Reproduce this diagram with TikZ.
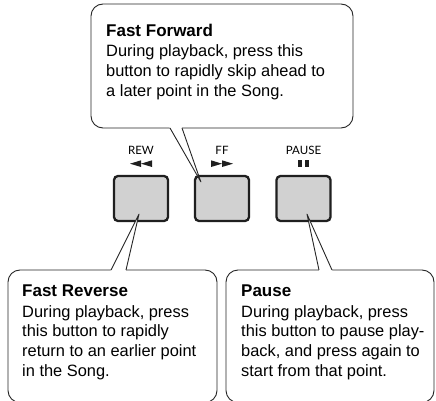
\documentclass[tikz,border=0pt]{standalone}
\usepackage{fontspec}
\setmainfont{Liberation Sans}
\newfontfamily\lblfont{Lato}
\usetikzlibrary{calc}
\begin{document}
\begin{tikzpicture}[x=1pt,y=-1pt,
  callout/.style={draw=black!85, line width=0.9pt, fill=white, rounded corners=12pt},
  pointer/.style={draw=black!85, line width=0.9pt, line join=round},
  btn/.style={draw=black!88, line width=2.3pt, fill=black!18, rounded corners=4pt,
    minimum width=54pt, minimum height=45pt, inner sep=0pt},
  lbl/.style={font=\lblfont\fontsize{11.5}{13}\selectfont, inner sep=0pt, anchor=base},
  ttl/.style={font=\bfseries\fontsize{17}{20}\selectfont, inner sep=0pt, anchor=base west},
  body/.style={font=\fontsize{16.4}{19.8}\selectfont, inner sep=0pt, anchor=base west},
  symb/.style={fill=black!88}
]
\useasboundingbox (0,0) rectangle (436,401);

% buttons
\node[btn] (rew) at (141,198.5) {};
\node[btn] (ff) at (222,198.5) {};
\node[btn] (pause) at (303.5,198.5) {};

% button labels
\node[lbl] (rewlbl) at (141,154.5) {REW};
\node[lbl] (fflbl) at (222,154.5) {FF};
\node[lbl] (pauselbl) at (303.5,154.5) {PAUSE};

% symbols
\fill[symb] (130,163.7) -- (141,160.3) -- (141,167) -- cycle;
\fill[symb] (141,163.7) -- (152,160.3) -- (152,167) -- cycle;
\fill[symb] (211,160.3) -- (222,163.7) -- (211,167) -- cycle;
\fill[symb] (222,160.3) -- (233,163.7) -- (222,167) -- cycle;
\fill[symb] (298,160.3) rectangle (302,167);
\fill[symb] (305,160.3) rectangle (309,167);

% pointer coordinates
\coordinate (fftip) at ($(ff.north west)+(7,7)$);
\coordinate (ffL) at (170,128);
\coordinate (ffR) at (182,128);
\coordinate (rewtip) at ($(rew.south)+(-2,-8)$);
\coordinate (rewL) at (111,270);
\coordinate (rewR) at (126,270);
\coordinate (pausetip) at ($(pause.south)+(3.5,-8)$);
\coordinate (pauseL) at (319,270);
\coordinate (pauseR) at (332,270);

% top callout
\draw[callout] (91,4) rectangle (353,128);
\fill[white] ($(ffL)!-0.06!(fftip)$) -- (fftip) -- ($(ffR)!-0.06!(fftip)$) -- cycle;
\draw[pointer] (ffL) -- (fftip) -- (ffR);
\node[ttl] (fftitle) at (106,36.5) {Fast Forward};
\node[body] (ffbody) at (106,56.5) {\begin{tabular}[t]{@{}l@{}}During playback, press this\\button to rapidly skip ahead to\\a later point in the Song.\end{tabular}};

% bottom left callout
\draw[callout] (8,270) rectangle (217,402.5);
\fill[white] ($(rewL)!-0.06!(rewtip)$) -- (rewtip) -- ($(rewR)!-0.06!(rewtip)$) -- cycle;
\draw[pointer] (rewL) -- (rewtip) -- (rewR);
\node[ttl] (rewtitle) at (22,296.5) {Fast Reverse};
\node[body] (rewbody) at (22,317) {\begin{tabular}[t]{@{}l@{}}During playback, press\\this button to rapidly\\return to an earlier point\\in the Song.\end{tabular}};

% bottom right callout
\draw[callout] (226,270) rectangle (434,402.5);
\fill[white] ($(pauseL)!-0.06!(pausetip)$) -- (pausetip) -- ($(pauseR)!-0.06!(pausetip)$) -- cycle;
\draw[pointer] (pauseL) -- (pausetip) -- (pauseR);
\node[ttl] (pausetitle) at (241,296.5) {Pause};
\node[body] (pausebody) at (241,317) {\begin{tabular}[t]{@{}l@{}}During playback, press\\this button to pause play-\\back, and press again to\\start from that point.\end{tabular}};
\end{tikzpicture}
\end{document}
